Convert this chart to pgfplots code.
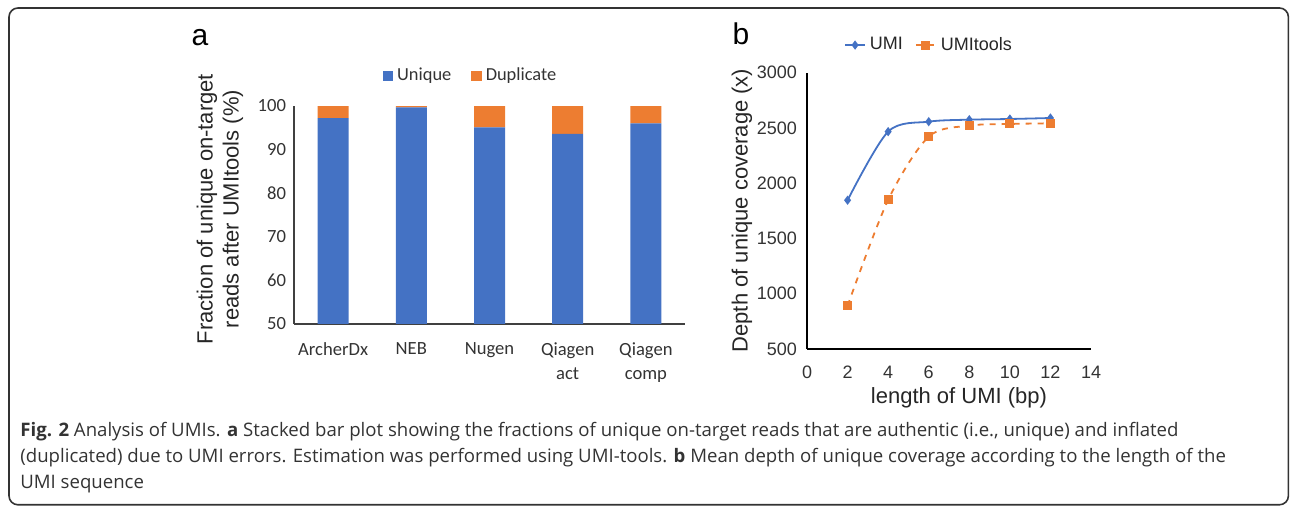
\documentclass[border=0pt]{standalone}
\usepackage{fontspec}
\setmainfont{Liberation Sans}
\newfontfamily\carlito{Carlito}
\newfontfamily\osans{Open Sans}
\usepackage{pgfplots}
\pgfplotsset{compat=1.18}
\definecolor{cblue}{HTML}{4472C4}
\definecolor{corange}{HTML}{ED7D31}
\begin{document}
\begin{tikzpicture}
\useasboundingbox (0pt,0pt) rectangle (645pt,-253pt);
\clip (0pt,0pt) rectangle (645pt,-253pt);
% frame
\draw[black!80, line width=0.8pt, rounded corners=4.5pt] (4.5pt,-4pt) rectangle (644.2pt,-252.4pt);
% panel labels
\node[anchor=base, font=\fontsize{15}{18}\selectfont] at (100pt,-23pt) {a};
\node[anchor=base, font=\fontsize{15}{18}\selectfont] at (370.5pt,-22.5pt) {b};
% panel a
\begin{axis}[
  at={(147pt,-162pt)}, anchor=south west,
  scale only axis, width=195.5pt, height=109pt,
  xmin=-0.5, xmax=4.5, ymin=50, ymax=100,
  ybar stacked, bar width=15.5pt,
  xtick={0,1,2,3,4},
  xticklabels={ArcherDx, NEB, Nugen, {Qiagen\\act}, {Qiagen\\comp}},
  ytick={50,60,70,80,90,100},
  axis x line*=bottom, axis y line*=left,
  axis line style={black!75, line width=0.6pt},
  major tick length=0pt,
  /pgf/number format/assume math mode=true,
  x tick label style={font=\fontsize{9.3}{12}\carlito, align=center, text=black!80, yshift=-6pt},
  y tick label style={font=\fontsize{9.3}{11}\carlito, text=black!80, xshift=-0.5pt},
  legend columns=2,
  legend style={draw=none, fill=none, at={(0.454,1.138)}, anchor=center,
    font=\fontsize{9.2}{11}\carlito, text=black!80,
    /tikz/every even column/.append style={column sep=8pt}},
  legend image code/.code={\fill[#1] (0pt,-2.6pt) rectangle (5.2pt,2.6pt);},
]
\addplot[fill=cblue, draw=none] coordinates {(0,97.2) (1,99.7) (2,95.1) (3,93.6) (4,96.0)};
\addplot[fill=corange, draw=none] coordinates {(0,2.8) (1,0.3) (2,4.9) (3,6.4) (4,4.0)};
\legend{Unique, Duplicate}
\end{axis}
\node[rotate=90, align=center, font=\fontsize{11}{13}\selectfont, text=black!85] at (110pt,-104.5pt) {Fraction of unique on-target\\reads after UMItools (\%)};
% panel b
\begin{axis}[
  at={(403.5pt,-174.5pt)}, anchor=south west,
  scale only axis, width=142pt, height=138.15pt,
  xmin=0, xmax=14, ymin=500, ymax=3000,
  xtick={0,2,...,14}, ytick={500,1000,...,3000},
  axis x line*=bottom, axis y line*=left,
  axis line style={black, line width=0.6pt},
  major tick length=0pt,
  /pgf/number format/assume math mode=true,
  /pgf/number format/1000 sep={},
  x tick label style={font=\fontsize{9}{11}\selectfont, text=black!80, yshift=-5pt},
  y tick label style={font=\fontsize{9}{11}\selectfont, text=black!80, xshift=-1.5pt},
  legend columns=2,
  legend style={draw=none, fill=none, at={(0.433,1.10)}, anchor=center,
    font=\fontsize{9}{11}\selectfont, text=black!85,
    /tikz/every even column/.append style={column sep=4pt}},
  legend image code/.code={\draw[#1] (0pt,0pt) -- (10pt,0pt); \draw[#1, solid] plot coordinates {(5pt,0pt)};},
]
\addplot[cblue, line width=0.9pt, smooth, mark=diamond*, mark size=1.6pt, mark options={solid}] coordinates {(2,1846) (4,2467) (6,2557) (8,2575) (10,2581) (12,2590)};
\addplot[corange, line width=0.9pt, dashed, smooth, mark=square*, mark size=1.8pt, mark options={solid}] coordinates {(2,891) (4,1849) (6,2421) (8,2521) (10,2536) (12,2542)};
\legend{UMI, UMItools}
\end{axis}
\node[rotate=90, font=\fontsize{11}{13}\selectfont, text=black!85] at (371pt,-105.25pt) {Depth of unique coverage (x)};
\node[font=\fontsize{11}{13}\selectfont, text=black!85] at (479.5pt,-199pt) {length of UMI (bp)};
% caption
\begin{scope}[every node/.style={anchor=base west, inner sep=0pt, font=\fontsize{9.3}{12}\osans, text=black!80}]
\node at (10pt,-218.5pt) {\textbf{Fig. 2} Analysis of UMIs. \textbf{a} Stacked bar plot showing the fractions of unique on-target reads that are authentic (i.e., unique) and inflated};
\node at (10pt,-231.5pt) {(duplicated) due to UMI errors. Estimation was performed using UMI-tools. \textbf{b} Mean depth of unique coverage according to the length of the};
\node at (10pt,-244.5pt) {UMI sequence};
\end{scope}
\end{tikzpicture}
\end{document}
